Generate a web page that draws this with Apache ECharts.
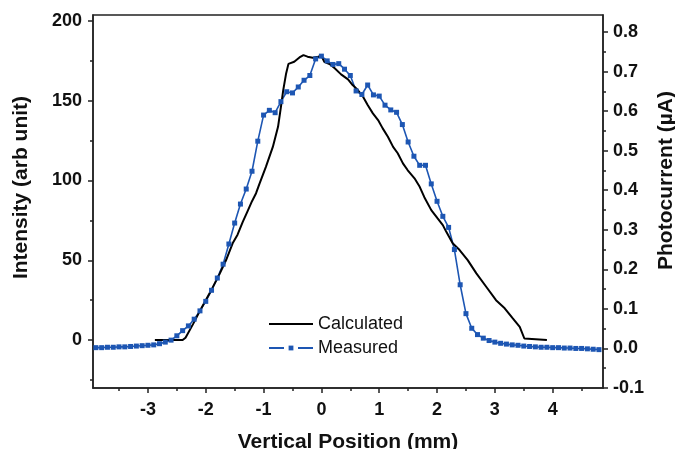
<!DOCTYPE html>
<html>
<head>
<meta charset="utf-8">
<script src="https://cdn.jsdelivr.net/npm/echarts@6/dist/echarts.min.js"></script>
<style>
  html, body { margin: 0; padding: 0; background: #fff; }
  #chart { width: 675px; height: 449px; }
</style>
</head>
<body>
<div id="chart"></div>
<script>
// Calculated intensity profile (left axis)
var calcX = [-2.88, -2.40, -2.35, -2.22, -2.11, -2.00, -1.88, -1.76, -1.65, -1.53, -1.45, -1.36, -1.28, -1.20, -1.13,
  -1.07, -0.96, -0.84, -0.75, -0.70, -0.66, -0.61, -0.57, -0.47, -0.38, -0.31, -0.24, -0.15, -0.06, 0.00,
  0.05, 0.14, 0.23, 0.34, 0.46, 0.54, 0.63, 0.72, 0.80, 0.89, 0.98, 1.06, 1.15, 1.24, 1.32, 1.41, 1.49,
  1.61, 1.70, 1.78, 1.90, 2.01, 2.10, 2.16, 2.27, 2.39, 2.53, 2.68, 2.85, 3.02, 3.17, 3.31, 3.43, 3.51, 3.54, 3.90];
var calcY = [0, 0, 1.5, 10, 17.7, 25, 33, 41.5, 50, 61, 66, 74, 80.5, 87, 92,
  98, 108.5, 121, 133.6, 146, 156.6, 167, 173, 174.3, 177, 178.5, 177.5, 176.8, 177.5, 178,
  174.3, 172.9, 170.2, 166.4, 163.3, 159.7, 156.6, 152.4, 147.2, 142, 137.8, 132.6, 127.3, 121, 117, 110.7, 106.5,
  101.3, 96, 89.5, 81.4, 76.2, 72, 67.8, 60.6, 56.4, 50.1, 41.8, 33.4, 25, 19.9, 13.6, 8.3, 1, 0, 0];

// Measured photocurrent (right axis)
var measX = [-3.9, -3.8, -3.7, -3.6, -3.5, -3.4, -3.3, -3.2, -3.1, -3.0, -2.9, -2.8, -2.7, -2.6, -2.5, -2.4, -2.3, -2.2,
  -2.1, -2.0, -1.9, -1.8, -1.7, -1.6, -1.5, -1.4, -1.3, -1.2, -1.1, -1.0, -0.9, -0.8, -0.7, -0.6, -0.5, -0.4, -0.3,
  -0.2, -0.1, 0.0, 0.1, 0.2, 0.3, 0.4, 0.5, 0.6, 0.7, 0.8, 0.9, 1.0, 1.1, 1.2, 1.3, 1.4, 1.5, 1.6, 1.7, 1.8, 1.9,
  2.0, 2.1, 2.2, 2.3, 2.4, 2.5, 2.6, 2.7, 2.8, 2.9, 3.0, 3.1, 3.2, 3.3, 3.4, 3.5, 3.6, 3.7, 3.8, 3.9, 4.0, 4.1,
  4.2, 4.3, 4.4, 4.5, 4.6, 4.7, 4.8];
var measY = [0.002, 0.002, 0.003, 0.003, 0.004, 0.004, 0.005, 0.006, 0.007, 0.008, 0.009, 0.012, 0.016, 0.021, 0.032,
  0.045, 0.057, 0.074, 0.095, 0.119, 0.147, 0.178, 0.213, 0.264, 0.317, 0.365, 0.403, 0.448, 0.524, 0.590, 0.602,
  0.596, 0.624, 0.649, 0.646, 0.661, 0.678, 0.690, 0.732, 0.739, 0.727, 0.718, 0.720, 0.706, 0.690, 0.651, 0.642,
  0.666, 0.641, 0.638, 0.615, 0.603, 0.597, 0.566, 0.522, 0.486, 0.463, 0.463, 0.416, 0.372, 0.334, 0.306, 0.250,
  0.161, 0.088, 0.051, 0.035, 0.026, 0.020, 0.016, 0.013, 0.011, 0.009, 0.008, 0.006, 0.005, 0.004, 0.003, 0.003,
  0.002, 0.002, 0.001, 0.001, 0.000, 0.000, -0.001, -0.002, -0.003];

// tick values
var xTicks = [-3, -2, -1, 0, 1, 2, 3, 4];
var xMinorTicks = [-3.5, -2.5, -1.5, -0.5, 0.5, 1.5, 2.5, 3.5, 4.5];
var leftTicks = [0, 50, 100, 150, 200];
var leftMinorTicks = [-25, 25, 75, 125, 175];
var rightTicks = [-0.1, 0, 0.1, 0.2, 0.3, 0.4, 0.5, 0.6, 0.7, 0.8];
var rightMinorTicks = [-0.05, 0.05, 0.15, 0.25, 0.35, 0.45, 0.55, 0.65, 0.75];

var axisColor = '#222';
var blue = '#1d56b3';
var labelFont = { fontFamily: 'Liberation Sans', fontWeight: 'bold', fontSize: 18, color: '#111' };
var nameFont = { fontFamily: 'Liberation Sans', fontWeight: 'bold', fontSize: 21, color: '#111' };

function pairs(xs, ys) {
    var out = [];
    for (var i = 0; i < xs.length; i++) out.push([xs[i], ys[i]]);
    return out;
}

// extra axis that only carries the short minor ticks
function minorAxis(base, ticks) {
    return {
        type: 'value', min: base.min, max: base.max, position: base.position,
        axisLine: { show: false, onZero: false },
        axisTick: { show: true, customValues: ticks, length: 3, lineStyle: { color: axisColor, width: 1.5 } },
        axisLabel: { show: false },
        splitLine: { show: false }
    };
}

var chart = echarts.init(document.getElementById('chart'));

var xMain = {
    type: 'value', min: -3.95, max: 4.87, position: 'bottom',
    axisLine: { onZero: false, lineStyle: { color: axisColor, width: 1.5 } },
    axisTick: { customValues: xTicks, length: 5, lineStyle: { color: axisColor, width: 1.5 } },
    axisLabel: Object.assign({ customValues: xTicks, margin: 13 }, labelFont),
    splitLine: { show: false },
    name: 'Vertical Position (mm)', nameLocation: 'middle', nameGap: 44,
    nameTextStyle: nameFont
};
var yLeft = {
    type: 'value', min: -30, max: 203.6, position: 'left',
    axisLine: { show: true, onZero: false, lineStyle: { color: axisColor, width: 1.5 } },
    axisTick: { customValues: leftTicks, length: 5, lineStyle: { color: axisColor, width: 1.5 } },
    axisLabel: Object.assign({ customValues: leftTicks, margin: 11 }, labelFont),
    splitLine: { show: false },
    name: 'Intensity (arb unit)', nameLocation: 'middle', nameRotate: 90, nameGap: 61,
    nameTextStyle: Object.assign({ padding: [0, 0, 0, 28] }, nameFont)
};
var yRight = {
    type: 'value', min: -0.1, max: 0.843, position: 'right',
    axisLine: { show: true, onZero: false, lineStyle: { color: axisColor, width: 1.5 } },
    axisTick: { customValues: rightTicks, length: 5, lineStyle: { color: axisColor, width: 1.5 } },
    axisLabel: Object.assign({ customValues: rightTicks, margin: 10,
        formatter: function (v) { return v.toFixed(1); } }, labelFont),
    splitLine: { show: false },
    name: 'Photocurrent (\u00b5A)', nameLocation: 'middle', nameRotate: 90, nameGap: 53,
    nameTextStyle: Object.assign({ padding: [0, 0, 0, 42] }, nameFont)
};

var option = {
    animation: false,
    backgroundColor: '#fff',
    grid: { left: 93, right: 72, top: 15, bottom: 61, outerBoundsMode: 'none',
        show: true, borderColor: axisColor, borderWidth: 1.5 },
    legend: {
        orient: 'vertical', left: 268, top: 315, padding: 0, itemWidth: 44, itemHeight: 6, itemGap: 6,
        textStyle: { fontFamily: 'Liberation Sans', fontSize: 18, color: '#111' },
        data: [
            { name: 'Calculated', itemStyle: { opacity: 0 } },
            { name: 'Measured', lineStyle: { type: [15, 14] } }
        ]
    },
    xAxis: [xMain, minorAxis(xMain, xMinorTicks)],
    yAxis: [yLeft, yRight, minorAxis(yLeft, leftMinorTicks), minorAxis(yRight, rightMinorTicks)],
    series: [
        {
            name: 'Measured', type: 'line', xAxisIndex: 0, yAxisIndex: 1,
            data: pairs(measX, measY),
            symbol: 'rect', symbolSize: 5,
            itemStyle: { color: blue },
            lineStyle: { color: blue, width: 1.6 }
        },
        {
            name: 'Calculated', type: 'line', xAxisIndex: 0, yAxisIndex: 0,
            data: pairs(calcX, calcY),
            symbol: 'none',
            itemStyle: { color: '#000' },
            lineStyle: { color: '#000', width: 2 }
        }
    ]
};
chart.setOption(option);
</script>
</body>
</html>
